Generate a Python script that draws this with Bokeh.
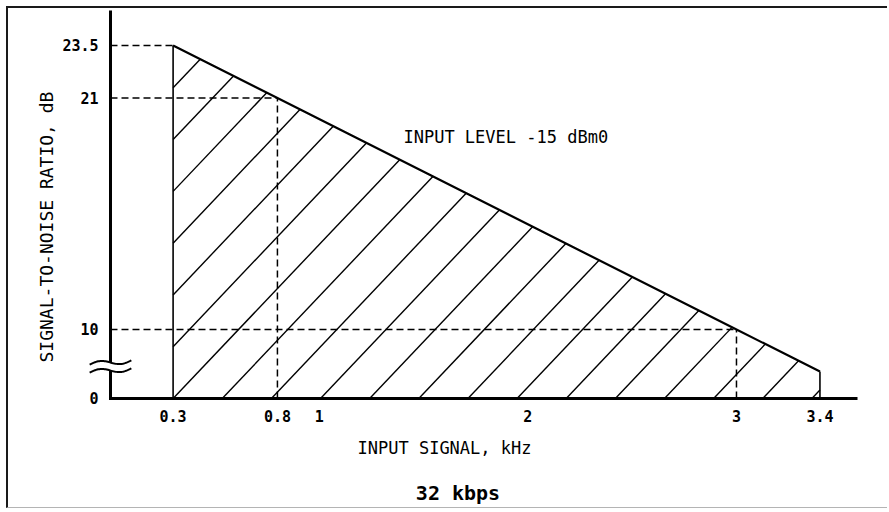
import numpy as np
from bokeh.plotting import figure
from bokeh.models import Range1d, FixedTicker, Label
from bokeh.embed import file_html
from bokeh.resources import INLINE

# ---------------- data ----------------
FREQ_KHZ = [0.3, 0.8, 3.0, 3.4]          # corners of the hatched region's top edge
SNR_DB = [23.5, 21.0, 10.0, 8.0]
GUIDE_FREQ = [0.3, 0.8, 3.0]              # dashed reference points
GUIDE_SNR = [23.5, 21.0, 10.0]
X_TICKS = [0.3, 0.8, 1, 2, 3, 3.4]
X_TICK_LABELS = ["0.3", "0.8", "1", "2", "3", "3.4"]
Y_TICKS = [0, 10, 21, 23.5]
Y_TICK_LABELS = ["0", "10", "21", "23.5"]
TITLE = "32 kbps"
X_LABEL = "INPUT SIGNAL, kHz"
Y_LABEL = "SIGNAL-TO-NOISE RATIO, dB"
NOTE = "INPUT LEVEL -15 dBm0"

# broken y axis: the "0" of the axis is drawn at this plotting value
AXIS_FLOOR = 6.72
Y_START, Y_TOP = 1.492, 25.16
X_START, X_END = -0.3834, 3.58
Y_AXIS_AT = 0.0

# hatch style
HATCH_STEP = 0.2355   # kHz between hatch lines along the base
HATCH_SLOPE = 10.45   # dB per kHz

MONO = "DejaVu Sans Mono"


def ymap(v):
    return AXIS_FLOOR if v < AXIS_FLOOR else v


p = figure(width=881, height=502,
           x_range=Range1d(X_START, X_END), y_range=Range1d(Y_START, Y_TOP),
           output_backend="svg", toolbar_location=None,
           min_border_left=22, min_border_right=32,
           min_border_top=2, min_border_bottom=2)
p.styles = {"margin-left": "6px", "margin-top": "6px",
            "border-left": "2px solid #1a1a1a",
            "border-top": "2px solid #1a1a1a",
            "border-bottom": "1px solid #b4b4b4"}
p.outline_line_color = None
p.xgrid.visible = False
p.ygrid.visible = False
p.background_fill_color = "white"
p.border_fill_color = "white"

floor = AXIS_FLOOR

# axes (positioned at the origin of the broken chart)
p.xaxis.ticker = FixedTicker(ticks=X_TICKS)
p.xaxis.major_label_overrides = dict(zip(X_TICKS, X_TICK_LABELS))
p.xaxis.fixed_location = floor
y_pos = [ymap(v) for v in Y_TICKS]
p.yaxis.ticker = FixedTicker(ticks=y_pos)
p.yaxis.major_label_overrides = dict(zip(y_pos, Y_TICK_LABELS))
p.yaxis.fixed_location = Y_AXIS_AT
for ax in (p.xaxis[0], p.yaxis[0]):
    ax.axis_line_width = 3
    ax.axis_line_color = "black"
    ax.axis_line_cap = "square"
    ax.major_tick_line_color = None
    ax.minor_tick_line_color = None
    ax.major_tick_out = 0
    ax.major_tick_in = 0
    ax.major_label_text_font = MONO
    ax.major_label_text_font_size = "15px"
    ax.major_label_text_font_style = "bold"
    ax.major_label_text_color = "black"
p.xaxis.axis_line_color = None
p.xaxis.major_label_standoff = 12
p.yaxis.major_label_standoff = 12
p.yaxis.bounds = (floor, Y_TOP)

# x axis line starting at the y axis
p.segment(x0=[Y_AXIS_AT], y0=[floor], x1=[X_END], y1=[floor],
          line_width=3, line_color="black", line_cap="square")

# hatch lines clipped to the region
grid = np.linspace(FREQ_KHZ[0], FREQ_KHZ[-1], 6201)
top = np.interp(grid, FREQ_KHZ, SNR_DB)
hx, hy = [], []
for k in range(-30, 30):
    x0 = FREQ_KHZ[0] + k * HATCH_STEP
    ln = floor + HATCH_SLOPE * (grid - x0)
    inside = (ln >= floor - 1e-9) & (ln <= top)
    if not inside.any():
        continue
    idx = np.nonzero(inside)[0]
    i0, i1 = idx[0], idx[-1]
    if i1 - i0 < 2:
        continue
    hx.append([grid[i0], grid[i1]])
    hy.append([ln[i0], ln[i1]])
p.multi_line(hx, hy, line_width=1.4, line_color="black")

# region outline
p.line(FREQ_KHZ, SNR_DB, line_width=2.2, line_color="black")
p.segment(x0=[FREQ_KHZ[0], FREQ_KHZ[-1]], y0=[floor, floor],
          x1=[FREQ_KHZ[0], FREQ_KHZ[-1]], y1=[SNR_DB[0], SNR_DB[-1]],
          line_width=1.6, line_color="black")

# dashed guides
p.segment(x0=[Y_AXIS_AT] * len(GUIDE_SNR), y0=GUIDE_SNR, x1=GUIDE_FREQ, y1=GUIDE_SNR,
          line_dash="7 4", line_width=1.5, line_color="black")
p.segment(x0=GUIDE_FREQ[1:], y0=[floor] * (len(GUIDE_FREQ) - 1),
          x1=GUIDE_FREQ[1:], y1=GUIDE_SNR[1:],
          line_dash="7 4", line_width=1.5, line_color="black")

# axis-break mark on the y axis
BREAK_Y = 8.24
t = np.linspace(0, 1, 40)
wx = Y_AXIS_AT - 0.1 + 0.2 * t
wave = 0.12 * np.sin(2 * np.pi * t) + 0.2 * (t - 0.5)
gap = p.varea(x=wx, y1=BREAK_Y - 0.19 + wave, y2=BREAK_Y + 0.19 + wave,
              fill_color="white", fill_alpha=1)
gap.level = "overlay"
for off in (0.19, -0.19):
    r = p.line(wx, BREAK_Y + off + wave, line_width=2, line_color="black")
    r.level = "overlay"

# texts
p.add_layout(Label(x=-0.309, y=14.87, text=Y_LABEL, angle=np.pi / 2,
                   text_align="center", text_baseline="middle",
                   text_font=MONO, text_font_size="18px", text_color="black"))
p.add_layout(Label(x=1.6007, y=4.39, text=X_LABEL, text_align="center",
                   text_baseline="middle", text_font=MONO, text_font_size="17px",
                   text_color="black"))
p.add_layout(Label(x=1.6654, y=2.205, text=TITLE, text_align="center",
                   text_baseline="middle", text_font=MONO, text_font_size="20px",
                   text_font_style="bold", text_color="black"))
p.add_layout(Label(x=1.404, y=19.13, text=NOTE, text_align="left",
                   text_baseline="middle", text_font=MONO, text_font_size="17px",
                   text_color="black"))

open("out.html", "w").write(file_html(p, INLINE))
